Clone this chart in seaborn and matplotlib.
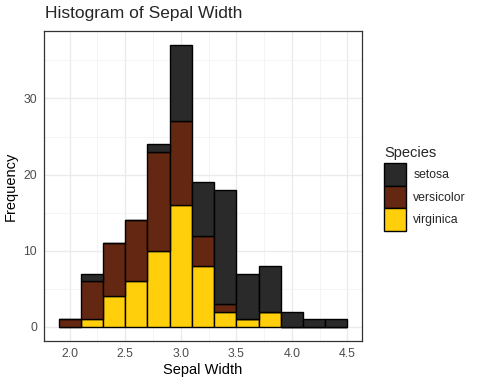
import pandas as pd
import seaborn as sns
import matplotlib.pyplot as plt
from matplotlib.patches import Patch
from matplotlib.ticker import MultipleLocator, FormatStrFormatter

# Comptes par classe (largeur 0.2, centres 2.0 ... 4.4)
bin_centers = [2.0, 2.2, 2.4, 2.6, 2.8, 3.0, 3.2, 3.4, 3.6, 3.8, 4.0, 4.2, 4.4]
setosa = [0, 1, 0, 0, 1, 10, 7, 15, 6, 6, 2, 1, 1]
versicolor = [1, 5, 7, 8, 13, 11, 4, 1, 0, 0, 0, 0, 0]
virginica = [0, 1, 4, 6, 10, 16, 8, 2, 1, 2, 0, 0, 0]

species = ["setosa", "versicolor", "virginica"]
colors = {"setosa": "#2a2a2a", "versicolor": "#642711", "virginica": "#ffcf0c"}

rows = []
for name, counts in zip(species, [setosa, versicolor, virginica]):
    for c, n in zip(bin_centers, counts):
        rows.append({"width": c, "count": n, "species": name})
df = pd.DataFrame(rows)

sns.set_theme(style="whitegrid")
plt.rcParams["font.family"] = ["Liberation Sans", "DejaVu Sans"]

fig = plt.figure(figsize=(4.8, 3.84), dpi=100)
ax = fig.add_axes([0.092, 0.112, 0.662, 0.807])

sns.histplot(data=df, x="width", weights="count", hue="species",
             hue_order=species, multiple="stack", binwidth=0.2,
             binrange=(1.9, 4.5), palette=colors, edgecolor="black",
             linewidth=1.0, alpha=1, legend=False, ax=ax)

ax.set_xlim(1.77, 4.63)
ax.set_ylim(-1.85, 38.85)
ax.xaxis.set_major_locator(MultipleLocator(0.5))
ax.xaxis.set_minor_locator(MultipleLocator(0.25))
ax.xaxis.set_major_formatter(FormatStrFormatter("%.1f"))
ax.yaxis.set_major_locator(MultipleLocator(10))
ax.yaxis.set_minor_locator(MultipleLocator(5))
ax.grid(which="major", color="#ebebeb", linewidth=1.0)
ax.grid(which="minor", color="#f2f2f2", linewidth=0.6)
ax.set_axisbelow(True)
ax.set_facecolor("white")
for s in ax.spines.values():
    s.set_edgecolor("#333333")
    s.set_linewidth(0.9)

ax.tick_params(axis="both", which="major", length=3, width=0.8, color="#333333",
               labelsize=8.8, labelcolor="#4d4d4d", pad=2)
ax.tick_params(which="minor", length=0)

ax.set_xlabel("Sepal Width", fontsize=10.5, color="black", labelpad=2)
ax.set_ylabel("Frequency", fontsize=10.5, color="black", labelpad=4)
fig.text(0.094, 0.945, "Histogram of Sepal Width", fontsize=12.5, ha="left", va="bottom")

handles = [Patch(facecolor=colors[s], edgecolor="black", linewidth=1.0) for s in species]
leg = fig.legend(handles, species, title="Species", loc="upper left",
                 bbox_to_anchor=(0.79, 0.633), frameon=False, fontsize=8.8,
                 title_fontsize=10.5, handlelength=1.8, handleheight=2.45,
                 handletextpad=0.6, labelspacing=0.0, borderaxespad=0)
leg._legend_box.align = "left"
leg._legend_box.sep = 2.5

fig.savefig("out.png", dpi=100)
